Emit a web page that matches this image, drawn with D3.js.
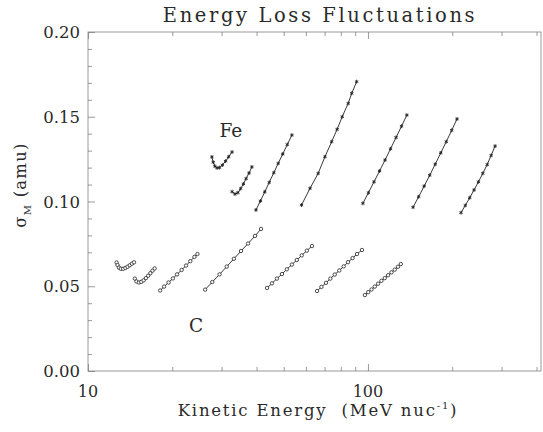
<!DOCTYPE html>
<html><head><meta charset="utf-8">
<script src="https://cdn.jsdelivr.net/npm/d3@7"></script>
<style>body{margin:0;background:#fff}svg{display:block}</style>
</head><body>
<script>
// ---- data (E in MeV/nuc, sigma_M in amu) ----
const carbonSegments = [
  [[12.65,0.0640],[12.75,0.0625],[12.9,0.0610],[13.1,0.0603],[13.35,0.0603],[13.6,0.0608],[13.85,0.0615],[14.1,0.0624],[14.35,0.0633],[14.6,0.0641]],
  [[14.7,0.0545],[14.9,0.0528],[15.2,0.0522],[15.5,0.0526],[15.8,0.0535],[16.1,0.0548],[16.4,0.0562],[16.7,0.0577],[17.0,0.0592],[17.3,0.0605]],
  [[18.1,0.0475],[18.7,0.0498],[19.4,0.0522],[20.1,0.0546],[20.8,0.0570],[21.6,0.0596],[22.4,0.0622],[23.2,0.0648],[24.0,0.0673],[24.6,0.0690]],
  [[26.2,0.0480],[27.8,0.0525],[29.5,0.0570],[31.3,0.0616],[33.2,0.0662],[35.2,0.0708],[37.3,0.0752],[39.5,0.0797],[41.5,0.0838]],
  [[43.6,0.0490],[45.4,0.0517],[47.3,0.0545],[49.3,0.0572],[51.3,0.0600],[53.5,0.0628],[55.7,0.0655],[58.0,0.0682],[60.5,0.0710],[63.1,0.0737]],
  [[65.8,0.0472],[68.2,0.0496],[70.8,0.0520],[73.4,0.0545],[76.1,0.0569],[79.0,0.0593],[81.9,0.0617],[84.9,0.0642],[88.1,0.0666],[91.4,0.0690],[95.2,0.0714]],
  [[97.5,0.0448],[100.2,0.0465],[103,0.0481],[105.8,0.0498],[108.7,0.0515],[111.7,0.0532],[114.8,0.0548],[118,0.0565],[121.3,0.0582],[124.6,0.0598],[128,0.0615],[131,0.0631]]
];
const ironSegments = [
  [[27.7,0.1263],[28.0,0.1232],[28.4,0.1208],[28.9,0.1198],[29.5,0.1200],[30.2,0.1215],[31.0,0.1238],[31.8,0.1264],[32.7,0.1292]],
  [[32.7,0.1058],[33.5,0.1044],[34.3,0.1052],[35.1,0.1076],[35.9,0.1104],[36.7,0.1135],[37.6,0.1168],[38.5,0.1204]],
  [[39.8,0.0950],[41.3,0.1003],[42.8,0.1057],[44.4,0.1113],[46.1,0.1170],[47.8,0.1225],[49.6,0.1280],[51.5,0.1336],[53.5,0.1392]],
  [[57.9,0.0979],[62.1,0.1078],[66.4,0.1166],[70.2,0.1264],[74.2,0.1353],[77.6,0.1426],[80.9,0.1500],[85.0,0.1579],[87.5,0.1638],[91.1,0.1707]],
  [[95.9,0.0989],[100.4,0.1052],[105.1,0.1116],[110.0,0.1180],[115.1,0.1245],[120.4,0.1311],[126.0,0.1378],[131.8,0.1444],[137.7,0.1510]],
  [[144.9,0.0966],[151.7,0.1028],[158.8,0.1091],[166.2,0.1155],[173.9,0.1220],[182.0,0.1287],[190.4,0.1353],[199.1,0.1420],[208.0,0.1487]],
  [[214.9,0.0934],[222.7,0.0977],[230.9,0.1022],[239.3,0.1068],[248.1,0.1116],[257.2,0.1166],[266.6,0.1218],[275.4,0.1272],[284.5,0.1327]]
];
const xMajorTicks = [10, 100];
const xMinorTicks = [20,30,40,50,60,70,80,90,200,300,400];
const yMajorTicks = [0.00,0.05,0.10,0.15,0.20];
const yMinorTicks = [0.01,0.02,0.03,0.04,0.06,0.07,0.08,0.09,0.11,0.12,0.13,0.14,0.16,0.17,0.18,0.19];
const labels = {title:"Energy Loss Fluctuations", fe:"Fe", c:"C"};

// ---- layout ----
const W=543,H=432;
const L=88,R=541,T=32,B=371;
const FONT="'DejaVu Serif', serif";
const TXT="#2a2a2a";
const svg=d3.select("body").append("svg").attr("width",W).attr("height",H);
const x=d3.scaleLog().domain([10,415]).range([L,R]);
const y=d3.scaleLinear().domain([0,0.2]).range([B,T]);
const axisCol="#808080";

// frame
svg.append("rect").attr("x",L).attr("y",T).attr("width",R-L).attr("height",B-T)
  .attr("fill","none").attr("stroke",axisCol).attr("stroke-width",0.8);

// axes with inward ticks
const gB=svg.append("g").attr("transform",`translate(0,${B})`);
gB.call(d3.axisTop(x).tickValues(xMajorTicks).tickSize(7).tickFormat(""));
gB.call(g=>g.append("g").call(d3.axisTop(x).tickValues(xMinorTicks).tickSize(4).tickFormat("")));
const gT=svg.append("g").attr("transform",`translate(0,${T})`);
gT.call(d3.axisBottom(x).tickValues(xMajorTicks).tickSize(7).tickFormat(""));
gT.call(g=>g.append("g").call(d3.axisBottom(x).tickValues(xMinorTicks).tickSize(4).tickFormat("")));
const gL=svg.append("g").attr("transform",`translate(${L},0)`);
gL.call(d3.axisRight(y).tickValues(yMajorTicks).tickSize(7).tickFormat(""));
gL.call(g=>g.append("g").call(d3.axisRight(y).tickValues(yMinorTicks).tickSize(4).tickFormat("")));
svg.selectAll(".domain").remove();
svg.selectAll(".tick line").attr("stroke",axisCol).attr("stroke-width",0.8);

// tick labels
svg.append("g").selectAll("text").data(xMajorTicks).join("text")
  .attr("x",d=>x(d)).attr("y",B+26).attr("text-anchor","middle")
  .attr("font-family",FONT).attr("font-size",16).attr("fill",TXT).text(d=>d3.format("d")(d));
svg.append("g").selectAll("text").data(yMajorTicks).join("text")
  .attr("x",L-8).attr("y",d=>y(d)+6).attr("text-anchor","end")
  .attr("font-family",FONT).attr("font-size",16.5).attr("fill",TXT).text(d=>d3.format(".2f")(d));

// title
svg.append("text").attr("x",320).attr("y",22).attr("text-anchor","middle")
  .attr("font-family",FONT).attr("font-size",19.5).attr("letter-spacing",2.6).attr("fill",TXT).text(labels.title);

// x axis title
const xt=svg.append("text").attr("x",318).attr("y",416).attr("text-anchor","middle")
  .attr("font-family",FONT).attr("font-size",16.5).attr("letter-spacing",1.8).attr("fill",TXT).attr("xml:space","preserve");
xt.append("tspan").text("Kinetic Energy  (MeV nuc");
xt.append("tspan").attr("dy",-7).attr("font-size",10).text("-1");
xt.append("tspan").attr("dy",7).text(")");

// y axis title
const yt=svg.append("text").attr("transform",`translate(26,185) rotate(-90)`).attr("text-anchor","middle")
  .attr("font-family",FONT).attr("font-size",16.5).attr("letter-spacing",1.2).attr("fill",TXT).attr("xml:space","preserve");
yt.append("tspan").text("σ");
yt.append("tspan").attr("dy",5).attr("font-size",10).text("M");
yt.append("tspan").attr("dy",-5).text(" (amu)");

// lines
const line=d3.line().x(d=>x(d[0])).y(d=>y(d[1]));
const plot=svg.append("g");
plot.selectAll(".cl").data(carbonSegments).join("path").attr("class","cl")
  .attr("d",line).attr("fill","none").attr("stroke","#222").attr("stroke-width",0.9);
plot.selectAll(".fl").data(ironSegments).join("path").attr("class","fl")
  .attr("d",line).attr("fill","none").attr("stroke","#222").attr("stroke-width",0.9);
// carbon markers: open circles
plot.selectAll(".cm").data(carbonSegments.flat()).join("circle").attr("class","cm")
  .attr("cx",d=>x(d[0])).attr("cy",d=>y(d[1])).attr("r",1.7)
  .attr("fill","#fff").attr("stroke","#222").attr("stroke-width",0.8);
// iron markers: asterisks
const star=d3.symbol().type(d3.symbolAsterisk).size(10);
plot.selectAll(".fm").data(ironSegments.flat()).join("path").attr("class","fm")
  .attr("transform",d=>`translate(${x(d[0])},${y(d[1])})`).attr("d",star())
  .attr("fill","none").attr("stroke","#222").attr("stroke-width",0.9);

// species labels
svg.append("text").attr("x",x(32.4)).attr("y",y(0.1380)).attr("text-anchor","middle")
  .attr("font-family",FONT).attr("font-size",18.5).attr("fill",TXT).text(labels.fe);
svg.append("text").attr("x",x(24.3)).attr("y",y(0.0230)).attr("text-anchor","middle")
  .attr("font-family",FONT).attr("font-size",18.5).attr("fill",TXT).text(labels.c);
</script>
</body></html>
